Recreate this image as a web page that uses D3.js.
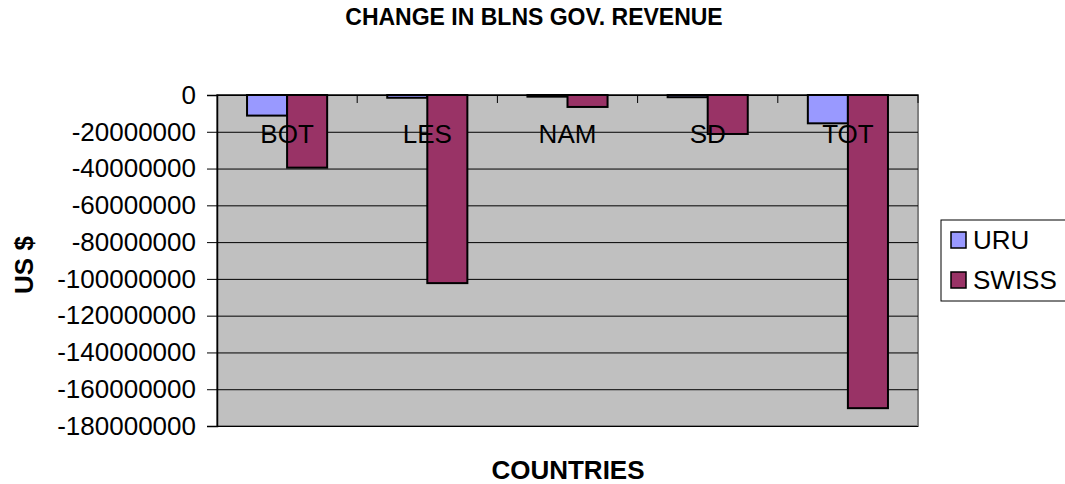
<!DOCTYPE html>
<html>
<head>
<meta charset="utf-8">
<script src="https://cdn.jsdelivr.net/npm/d3@7.9.0/dist/d3.min.js"></script>
<style>
  body { margin: 0; background: #fff; }
  svg { font-family: Arial, "Liberation Sans", sans-serif; }
</style>
</head>
<body>
<div id="chart"></div>
<script>
// chart data
const countries = ['BOT', 'LES', 'NAM', 'SD', 'TOT'];
const seriesNames = ['URU', 'SWISS'];
const uruValues = [-11200000, -1500000, -900000, -1200000, -15400000];
const swissValues = [-39500000, -102300000, -6500000, -21200000, -170300000];
const yTicks = [0, -20000000, -40000000, -60000000, -80000000, -100000000,
    -120000000, -140000000, -160000000, -180000000];
const colors = ['#9999ff', '#993366'];

const width = 1065;
const height = 484;
const plot = { left: 217, right: 918, top: 95, bottom: 426 };

const svg = d3.select('#chart')
    .append('svg')
    .attr('width', width)
    .attr('height', height);

const xScale = d3.scaleBand()
    .domain(countries)
    .range([plot.left, plot.right]);
const xSub = d3.scaleBand()
    .domain(seriesNames)
    .range([0, xScale.bandwidth() * 80 / 140])
    .padding(0);
const yScale = d3.scaleLinear()
    .domain([0, -180000000])
    .range([plot.top, plot.bottom]);

// plot area background
svg.append('rect')
    .attr('x', plot.left)
    .attr('y', plot.top)
    .attr('width', plot.right - plot.left)
    .attr('height', plot.bottom - plot.top)
    .attr('fill', '#c0c0c0')
    .attr('stroke', '#808080')
    .attr('stroke-width', 2);

// gridlines
svg.append('g')
    .attr('transform', `translate(${plot.left}, 0)`)
    .call(d3.axisLeft(yScale).tickValues(yTicks).tickFormat('').tickSize(-(plot.right - plot.left)))
    .call(g => g.select('.domain').remove())
    .call(g => g.selectAll('line').attr('stroke', '#000').attr('stroke-width', 1));

// y axis
svg.append('g')
    .attr('transform', `translate(${plot.left}, 0)`)
    .call(d3.axisLeft(yScale).tickValues(yTicks).tickFormat(d => String(d)).tickSize(10).tickPadding(11))
    .call(g => g.select('.domain').attr('stroke', '#000').attr('stroke-width', 1.5))
    .call(g => g.selectAll('text')
        .attr('font-size', 26)
        .attr('font-family', 'Arial, "Liberation Sans", sans-serif')
        .attr('fill', '#000'));

// bars
const rows = countries.map((c, i) => ({ country: c, values: [uruValues[i], swissValues[i]] }));
const offset = (xScale.bandwidth() - xSub.range()[1]) / 2;
const groups = svg.append('g').selectAll('g')
    .data(rows)
    .join('g')
    .attr('transform', d => `translate(${xScale(d.country) + offset}, 0)`);
groups.selectAll('rect')
    .data(d => d.values.map((v, j) => ({ name: seriesNames[j], value: v, color: colors[j] })))
    .join('rect')
    .attr('x', d => xSub(d.name))
    .attr('y', yScale(0))
    .attr('width', xSub.bandwidth())
    .attr('height', d => yScale(d.value) - yScale(0))
    .attr('fill', d => d.color)
    .attr('stroke', '#000')
    .attr('stroke-width', 2);

// x axis along zero line, ticks pointing into the plot
const xAxisG = svg.append('g')
    .attr('transform', `translate(0, ${yScale(0)})`);
xAxisG.append('line')
    .attr('x1', plot.left).attr('x2', plot.right)
    .attr('stroke', '#000').attr('stroke-width', 1);
xAxisG.selectAll('line.tick')
    .data(countries.slice(1).concat(['end']))
    .join('line')
    .attr('class', 'tick')
    .attr('x1', d => d === 'end' ? plot.right : xScale(d))
    .attr('x2', d => d === 'end' ? plot.right : xScale(d))
    .attr('y1', 0).attr('y2', 8)
    .attr('stroke', '#000');

// category labels
svg.append('g').selectAll('text')
    .data(countries)
    .join('text')
    .attr('x', d => xScale(d) + xScale.bandwidth() / 2)
    .attr('y', 143)
    .attr('text-anchor', 'middle')
    .attr('font-size', 26)
    .text(d => d);

// titles
svg.append('text')
    .attr('x', 534).attr('y', 25)
    .attr('text-anchor', 'middle')
    .attr('font-size', 23).attr('font-weight', 'bold')
    .text('CHANGE IN BLNS GOV. REVENUE');
svg.append('text')
    .attr('x', 568).attr('y', 479)
    .attr('text-anchor', 'middle')
    .attr('font-size', 26).attr('font-weight', 'bold')
    .text('COUNTRIES');
svg.append('text')
    .attr('transform', 'translate(33, 265) rotate(-90)')
    .attr('text-anchor', 'middle')
    .attr('font-size', 26).attr('font-weight', 'bold')
    .text('US $');

// legend
const legend = svg.append('g');
legend.append('rect')
    .attr('x', 941).attr('y', 220)
    .attr('width', 126).attr('height', 81)
    .attr('fill', '#fff').attr('stroke', '#000');
const items = legend.selectAll('g')
    .data(seriesNames)
    .join('g')
    .attr('transform', (d, i) => `translate(951, ${232 + i * 40})`);
items.append('rect')
    .attr('width', 15).attr('height', 16)
    .attr('fill', (d, i) => colors[i])
    .attr('stroke', '#000').attr('stroke-width', 1.5);
items.append('text')
    .attr('x', 22).attr('y', 17)
    .attr('font-size', 26)
    .text(d => d);
</script>
</body>
</html>
